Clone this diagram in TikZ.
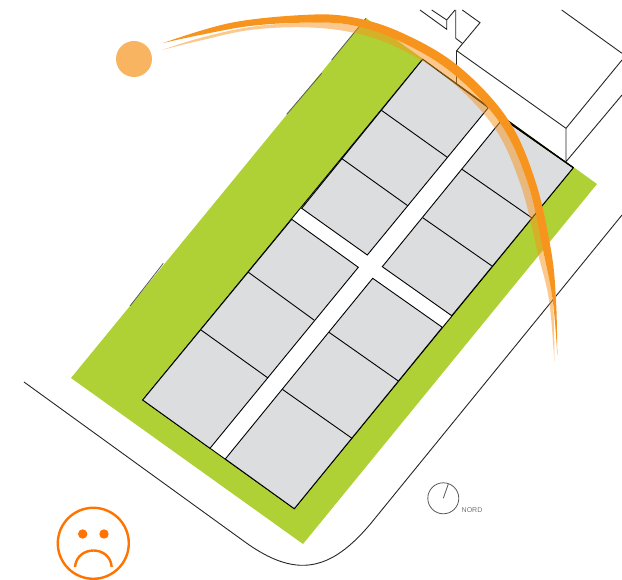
\documentclass[tikz,border=0pt]{standalone}
\usepackage{xcolor}
\usepackage{fontspec}
\setsansfont{Liberation Sans}
\usetikzlibrary{positioning}
\definecolor{lawngreen}{HTML}{AFD135}
\definecolor{blockgray}{HTML}{DCDDDF}
\definecolor{sunorange}{HTML}{F7941E}
\definecolor{smileorange}{HTML}{FF7300}
\tikzset{
    block/.style={fill=blockgray, draw=black, line width=0.9pt, line join=miter},
    divider/.style={draw=black, line width=0.9pt},
    outline/.style={draw=black!85, line width=0.9pt},
    face/.style={draw=smileorange, line width=2.4pt},
}
\begin{document}
\begin{tikzpicture}[x=1pt, y=-1pt]
    \useasboundingbox (0,0) rectangle (622,580);

    \fill[lawngreen] (71,378) -- (303,544) -- (597,184) -- (366,18) -- cycle;
    \draw[draw=black!65, line width=0.8pt] (130,306) -- (163.3,263.3);
    \draw[draw=black!65, line width=0.8pt] (286.7,114.3) -- (321.7,73.3);
    \draw[draw=black!65, line width=0.8pt] (331.7,60) -- (366,18.3);

    \draw[block, fill=white] (422.7,59.3) -- (573.3,167.7) -- (294.3,508.7) -- (142.7,400) -- cycle;
    \draw[block] (422.7,59.3) -- (488.3,107.7) -- (367.3,255) -- (301.7,208.3) -- cycle;
    \draw[block] (503,118.5) -- (573.3,167.7) -- (451.7,315.7) -- (382.3,266.7) -- cycle;
    \draw[block] (291.7,219.3) -- (358.3,267.3) -- (210,448.3) -- (142.7,400) -- cycle;
    \draw[block] (372.7,278.3) -- (442.3,327.3) -- (294.3,508.7) -- (225.3,459) -- cycle;
    \draw[divider] (381,110) -- (447.3,157.3);
    \draw[divider] (341,158) -- (407.7,205.7);
    \draw[divider] (462,169.3) -- (532,218);
    \draw[divider] (422.7,217.7) -- (492,266);
    \draw[divider] (248,272) -- (314,320);
    \draw[divider] (201,330) -- (268,378);
    \draw[divider] (329,332.3) -- (398.3,381);
    \draw[divider] (282.3,389.3) -- (352,438.3);
    \draw[draw=black, line width=1.3pt] (503,118.5) -- (573.3,167.7);

    \draw[outline] (420,10) -- (446.7,29.3) -- (446.7,20) -- (455,10);
    \draw[outline] (431.7,10) -- (446.7,20);
    \draw[outline] (455.7,10) -- (455.7,38.3) -- (462.3,43.3);
    \draw[outline] (462.3,10) -- (480,22.7) -- (456.7,50.7) -- (566,128.3) -- (622,60);
    \draw[outline] (456.7,50.7) -- (456.7,83.3);
    \draw[outline] (566,128.3) -- (566,161.7) -- (622,95);
    \draw[outline] (561.7,10) -- (622,53.3);

    \draw[outline] (24,382) -- (245,542) .. controls (295,578) and (330,573) .. (372,522) -- (622,215);

    \fill[sunorange!70] (134,59) circle (18);
    \fill[sunorange, opacity=0.5] plot[smooth, tension=0.6] coordinates {(162,50) (200,38) (250,27) (303,22.7) (350,24.8) (397,40) (451,72) (500,123) (527.7,183) (543,250) (552.7,300) (554.3,361.7)}
        -- plot[smooth, tension=0.6] coordinates {(554.3,361.7) (549,300) (537,250) (521,186) (494,127) (446,77) (394,46) (350,32) (303,27.3) (250,30) (200,40.6) (162,50)} -- cycle;
    \fill[sunorange] plot[smooth, tension=0.6] coordinates {(163,43) (230,23) (303,15) (350,16.8) (400,32) (457,65) (507,118) (535,180) (551,250) (556,300) (557.3,355)}
        -- plot[smooth, tension=0.6] coordinates {(557.3,355) (552.7,300) (543,250) (527.7,183) (500,123) (451,72) (397,40) (350,24.8) (303,22.7) (250,26) (200,35) (163,43)} -- cycle;

    \draw[draw=black!65, line width=0.8pt] (443.3,498.3) circle (15.5);
    \draw[draw=black!65, line width=0.8pt] (443.3,498.3) -- (448.3,484);
    \node[text=black!55, font=\sffamily\fontsize{7}{7}\selectfont, inner sep=0pt] (nordlabel) at (472,510) {NORD};

    \draw[face] (93.3,543.3) circle (35.5);
    \fill[smileorange] (82.7,534) circle (4.7);
    \fill[smileorange] (104,534) circle (4.7);
    \draw[face] (75,567) .. controls (77,545) and (110,545) .. (111.7,567);
\end{tikzpicture}
\end{document}
